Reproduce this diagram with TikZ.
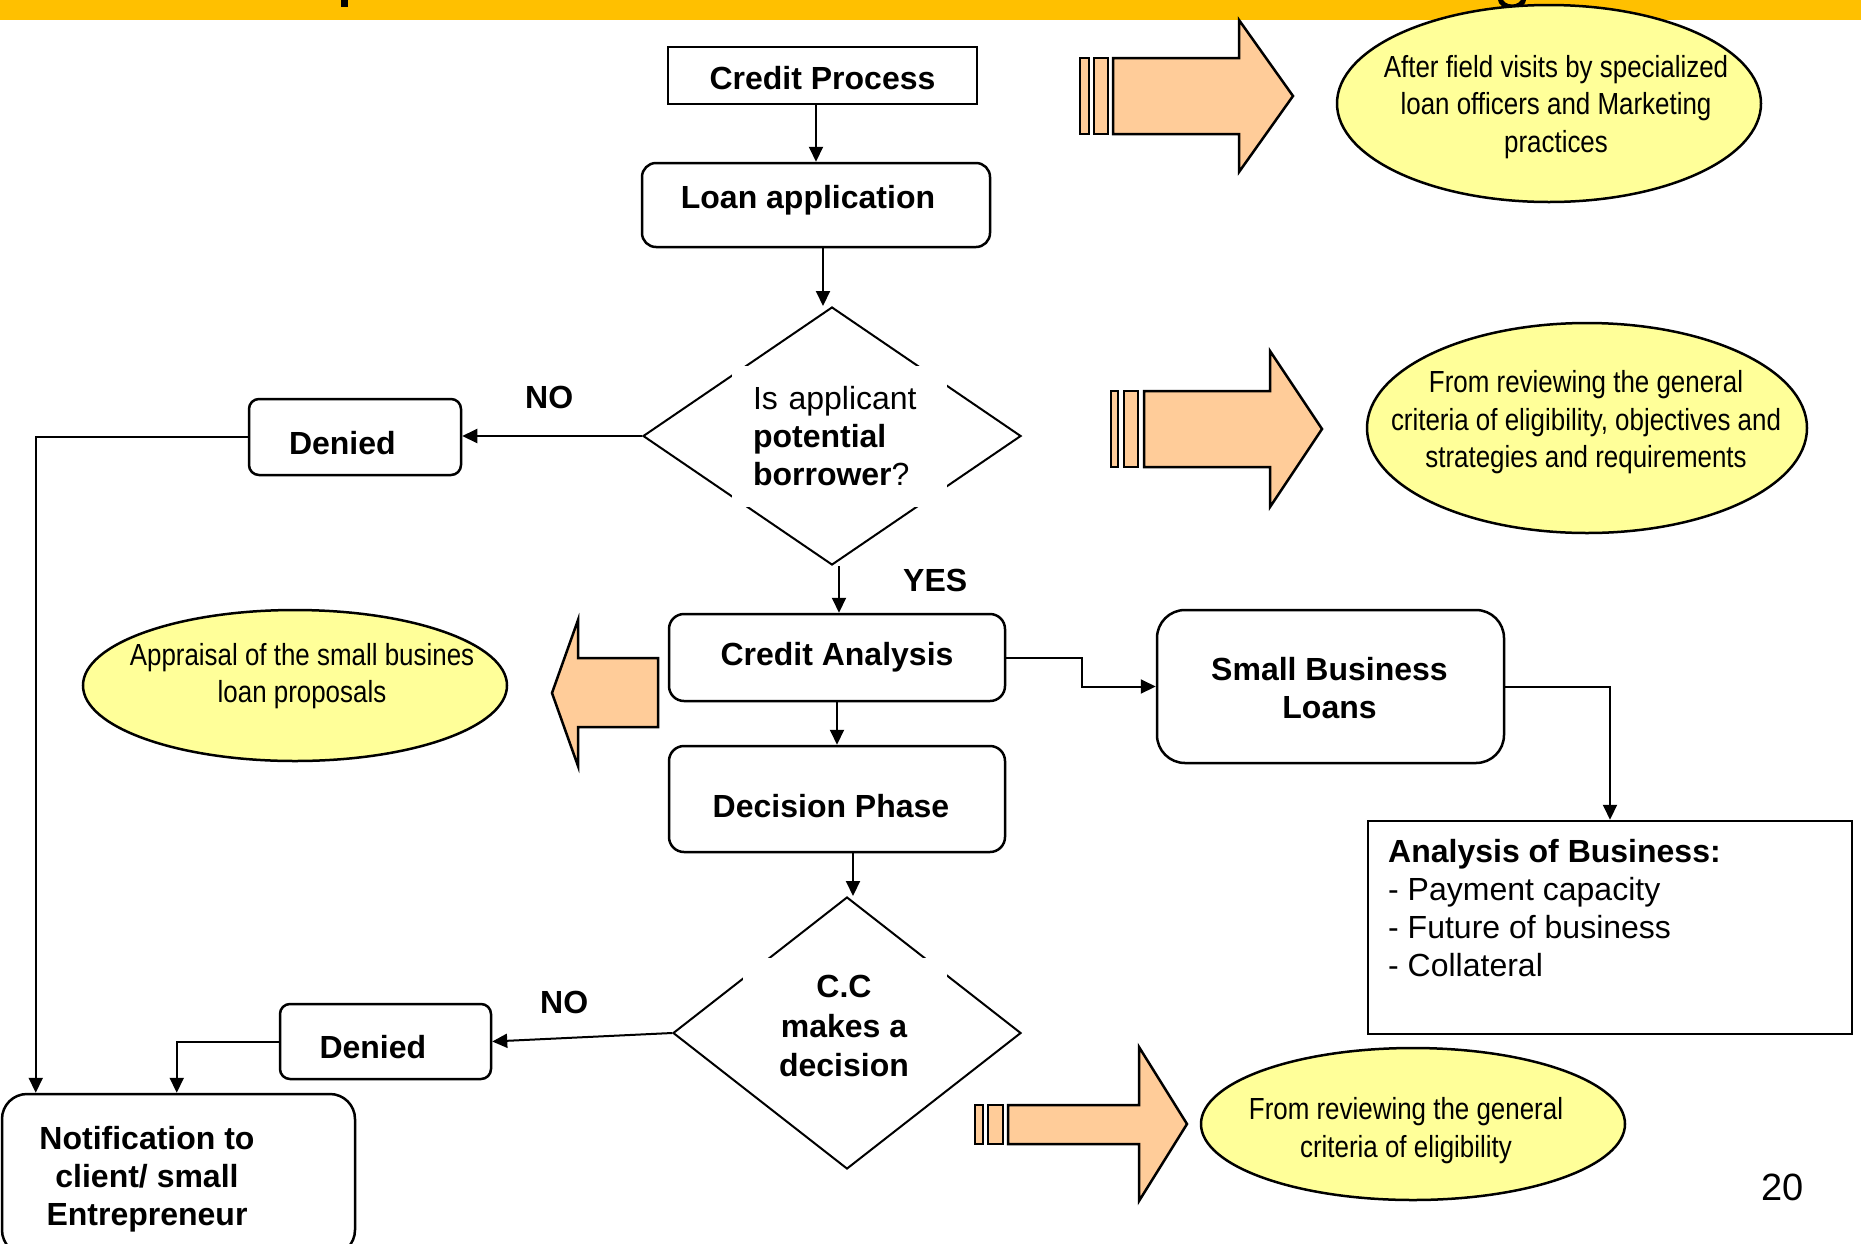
\documentclass[tikz,border=0pt]{standalone}
\usepackage{fontspec}
\setmainfont{Liberation Sans}
\newfontfamily\narrowfont[FakeStretch=0.85]{Liberation Sans}
\usetikzlibrary{shapes.geometric,arrows.meta}
\definecolor{barorange}{RGB}{255,192,0}
\definecolor{peach}{RGB}{255,204,153}
\definecolor{ellyellow}{RGB}{255,255,153}
\begin{document}
\begin{tikzpicture}[x=1pt,y=-1pt,
  bigfont/.style={font=\fontsize{32}{38}\selectfont\bfseries},
  sqbox/.style={draw, line width=2.5pt, bigfont, align=center, inner sep=0pt},
  rbox/.style={sqbox, rounded corners=14pt},
  dia/.style={diamond, draw, line width=2pt, inner sep=0pt},
  mask/.style={fill=white, inner ysep=0pt},
  ell/.style={ellipse, draw, line width=2.5pt, fill=ellyellow, inner sep=0pt},
  etxt/.style={font=\narrowfont\fontsize{30.5}{37.5}\selectfont, align=center, inner sep=0pt},
  lbl/.style={bigfont, inner sep=0pt, anchor=base west},
  blk/.style={fill=peach, draw=black, line width=2.5pt, line join=miter},
  arr/.style={line width=2pt, -{Triangle[length=15pt,width=14pt]}}]
\fill[white] (0,0) rectangle (1861,1243);
\useasboundingbox (0,0) rectangle (1861,1243);
\clip (0,0) rectangle (1861,1243);
% top bar with cut-off title descenders
\fill[barorange] (0,0) rectangle (1861,19.5);
\fill (341,0) rectangle (348,7);
\draw[line width=5pt] (1500,-2) .. controls (1501,10) and (1523,10) .. (1524,-2);

% main flow nodes
\node[sqbox, minimum width=309pt, minimum height=57pt, text height=28pt, text depth=0pt] (cp) at (822.5,75.5) {Credit Process};
\node[rbox, minimum width=348pt, minimum height=84pt, text height=7pt, text depth=0pt] (la) at (816,205) {Loan application\hspace*{16pt}};
\node[dia, minimum width=378pt, minimum height=258pt] (d1) at (832,436) {};
\node[mask, minimum width=215pt, minimum height=141pt, text width=173pt, inner xsep=21pt, align=left, font=\fontsize{32}{38}\selectfont] (d1t) at (839.5,436.5) {Is applicant\\\textbf{potential}\\\textbf{borrower}?};
\node[rbox, rounded corners=10pt, minimum width=212pt, minimum height=76pt, text width=132pt, inner xsep=40pt, align=left, text height=34pt, text depth=0pt] (den1) at (355,437) {Denied};
\node[rbox, rounded corners=15pt, minimum width=336pt, minimum height=87pt, text height=16pt, text depth=0pt] (ca) at (837,657.5) {Credit Analysis};
\node[rbox, rounded corners=15pt, minimum width=336pt, minimum height=106pt, text height=36pt, text depth=0pt] (dp) at (837,799) {Decision Phase\hspace*{12pt}};
\node[rbox, rounded corners=28pt, minimum width=347pt, minimum height=153pt] (sbl) at (1330.5,686.5) {};
\node[bigfont, align=center, inner sep=0pt] (sbltxt) at (1329.5,688.3) {Small Business\\Loans};
\node[sqbox, minimum width=484pt, minimum height=213pt] (an) at (1610,927.5) {};
\node[anchor=north west, inner sep=0pt, align=left, font=\fontsize{32}{38}\selectfont] (antxt) at (1388,839) {\textbf{Analysis of Business:}\\- Payment capacity\\- Future of business\\- Collateral};
\node[dia, minimum width=348pt, minimum height=272pt] (d2) at (847,1033) {};
\node[mask, minimum width=204pt, minimum height=127pt] (d2m) at (845,1021.5) {};
\node[align=center, inner sep=0pt, font=\fontsize{32}{39.5}\selectfont\bfseries] (d2t) at (844,1026) {C.C\\makes a\\decision};
\node[rbox, rounded corners=10pt, minimum width=211pt, minimum height=75pt, text width=132pt, inner xsep=39.5pt, align=left, text height=33.6pt, text depth=0pt] (den2) at (385.5,1041.5) {Denied};
\node[rbox, rounded corners=25pt, minimum width=353pt, minimum height=161pt] (noti) at (178.5,1174.5) {};
\node[bigfont, align=center, inner sep=0pt] (notitxt) at (147,1179) {Notification to\\client/ small\\Entrepreneur};

% ellipses
\node[ell, minimum width=424pt, minimum height=197pt] (e1) at (1549,103.5) {};
\node[etxt] (e1t) at (1556,106.7) {After field visits by specialized\\loan officers and Marketing\\practices};
\node[ell, minimum width=440pt, minimum height=210pt] (e2) at (1587,428) {};
\node[etxt] (e2t) at (1586,422.2) {From reviewing the general\\criteria of eligibility, objectives and\\strategies and requirements};
\node[ell, minimum width=424pt, minimum height=151pt] (e3) at (295,685.5) {};
\node[etxt] (e3t) at (302,676.2) {Appraisal of the small busines\\loan proposals};
\node[ell, minimum width=424pt, minimum height=152pt] (e4) at (1413,1124) {};
\node[etxt] (e4t) at (1406,1130.7) {From reviewing the general\\criteria of eligibility};

% block arrows
\filldraw[blk] (1080,58) rectangle (1089,134);
\filldraw[blk] (1094,58) rectangle (1108,134);
\filldraw[blk] (1113,58) -- (1239,58) -- (1239,20) -- (1293,96) -- (1239,172) -- (1239,134) -- (1113,134) -- cycle;
\filldraw[blk] (1111,391) rectangle (1118,467);
\filldraw[blk] (1124,391) rectangle (1138,467);
\filldraw[blk] (1144,391) -- (1270,391) -- (1270,351) -- (1322,429) -- (1270,507) -- (1270,467) -- (1144,467) -- cycle;
\filldraw[blk] (975,1105) rectangle (983,1144);
\filldraw[blk] (988,1105) rectangle (1003,1144);
\filldraw[blk] (1008,1105) -- (1139,1105) -- (1139,1047) -- (1187,1124) -- (1139,1201) -- (1139,1144) -- (1008,1144) -- cycle;
\filldraw[blk] (658,658) -- (578,658) -- (578,620) -- (552,693) -- (578,766) -- (578,727) -- (658,727) -- cycle;

% labels
\node[lbl] (no1) at (525,408) {NO};
\node[lbl] (no2) at (540,1013) {NO};
\node[lbl] (yes) at (903,591) {YES};
\node[anchor=base west, inner sep=0pt, font=\fontsize{38}{42}\selectfont] (pg) at (1761,1200) {20};

% connectors
\coordinate (p1) at ([xshift=7pt]la.south);
\coordinate (p2) at ([xshift=7pt]d1.south);
\coordinate (p3) at ([xshift=16pt]dp.south);
\coordinate (n1) at ([xshift=35pt]noti.north west);
\coordinate (n2) at ([xshift=176pt]noti.north west);
\draw[arr] (cp.south -| la.north) -- (la.north);
\draw[arr] (p1) -- (p1 |- d1.north);
\draw[arr] (d1.west) -- (d1.west -| den1.east);
\draw[arr] (den1.west) -| (n1);
\draw[arr] (p2) -- (p2 |- ca.north);
\draw[arr] (ca.south) -- (dp.north);
\draw[arr] (p3) -- (p3 |- d2.north);
\draw[arr] (ca.east) -- ++(76,0) |- (sbl.west);
\draw[arr] (sbl.east) -| (an.north);
\draw[arr] (d2.west) -- (den2.east);
\draw[arr] (den2.west) -| (n2);
\end{tikzpicture}
\end{document}
